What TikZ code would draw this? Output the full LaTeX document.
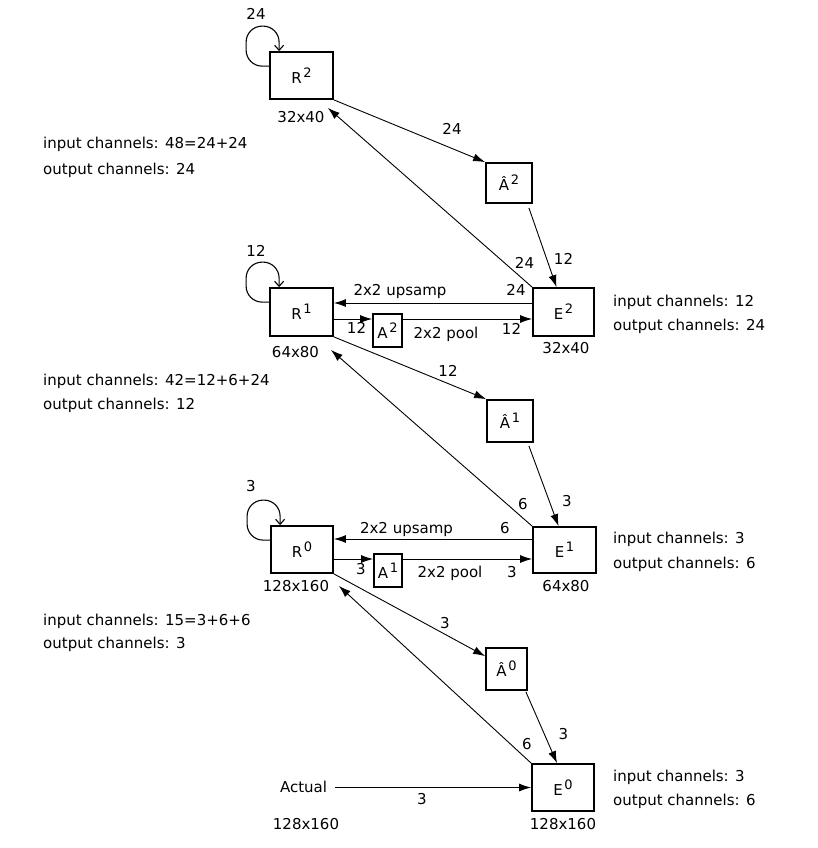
\documentclass[tikz,border=0pt]{standalone}
\usepackage{fontspec}
\setmainfont{DejaVu Sans}
\usetikzlibrary{arrows.meta}
\newcommand\myfs{\fontsize{15pt}{18pt}\selectfont}
\newcommand\supx[1]{\hspace{1.5pt}\raisebox{6pt}{\fontsize{13pt}{13pt}\selectfont #1}}
\begin{document}
\begin{tikzpicture}[x=1pt,y=-1pt,
  box/.style={draw, line width=1.8pt, inner sep=0pt, font=\myfs},
  lbl/.style={inner sep=0pt, anchor=base, font=\myfs},
  side/.style={inner sep=0pt, anchor=base west, font=\myfs},
  conn/.style={line width=0.9pt, -{Latex[length=12pt,width=8pt]}},
  loop/.style={line width=1.1pt, rounded corners=16pt, -{Straight Barb[length=5pt,width=9pt]}},
]
\useasboundingbox (0,0) rectangle (818,848);

% boxes
\node[box, minimum width=63pt, minimum height=47pt] (R2) at (301.5,75.5) {R\supx{2}};
\node[box, minimum width=63pt, minimum height=48pt] (R1) at (301.5,312) {R\supx{1}};
\node[box, minimum width=62pt, minimum height=47pt] (R0) at (302,549.5) {R\supx{0}};
\node[box, minimum width=61pt, minimum height=48pt] (E2) at (563.5,312) {E\supx{2}};
\node[box, minimum width=63pt, minimum height=46pt] (E1) at (564.5,550) {E\supx{1}};
\node[box, minimum width=62pt, minimum height=47pt] (E0) at (563,787.5) {E\supx{0}};
\node[box, minimum width=46pt, minimum height=40pt] (Ah2) at (509,183) {Â\supx{2}};
\node[box, minimum width=46pt, minimum height=42pt] (Ah1) at (510,421) {Â\supx{1}};
\node[box, minimum width=41pt, minimum height=42pt] (Ah0) at (506.5,669) {Â\supx{0}};
\node[box, minimum width=29pt, minimum height=33pt] (A2) at (387.5,330.5) {A\supx{2}};
\node[box, minimum width=28pt, minimum height=33pt] (A1) at (388,570.5) {A\supx{1}};
\node[lbl, anchor=base] (act) at (303.5,792) {Actual};

% self loops
\draw[loop] ([yshift=-15pt]R2.north west) -- ++(-23,0) -- ++(0,-40) -- ++(33,0) -- ([xshift=10pt]R2.north west);
\draw[loop] ([yshift=-15pt]R1.north west) -- ++(-23,0) -- ++(0,-40) -- ++(33,0) -- ([xshift=10pt]R1.north west);
\draw[loop] ([yshift=-15pt]R0.north west) -- ++(-23,0) -- ++(0,-40) -- ++(33,0) -- ([xshift=10pt]R0.north west);
\node[lbl] (l24) at (256,20) {24};
\node[lbl] (l12) at (256,256) {12};
\node[lbl] (l3) at (251,491) {3};

% level 2
\draw[conn] (R2.south east) -- (Ah2.north west);
\draw[conn] (E2.north west) -- ([xshift=-6pt,yshift=-8pt]R2.south east);
\draw[conn] ([xshift=-4pt,yshift=-4pt]Ah2.south east) -- ([xshift=-7pt]E2.north);
\node[lbl] at (452,135) {24};
\node[lbl] at (524.5,268) {24};
\node[lbl] at (563.5,264) {12};

\coordinate (u2) at ([yshift=9pt]E2.west);
\draw[conn] (u2) -- (u2 -| R1.east);
\coordinate (p2) at ([yshift=-7pt]R1.east);
\draw[conn] (p2) -- (p2 -| A2.west);
\draw[conn] (p2 -| A2.east) -- (p2 -| E2.west);
\node[lbl] at (400,295) {2x2 upsamp};
\node[lbl] at (516,295) {24};
\node[lbl] at (356.5,333) {12};
\node[lbl] at (446,338) {2x2 pool};
\node[lbl] at (511.5,334) {12};
\node[lbl] at (295.5,357) {64x80};
\node[lbl] at (566,353) {32x40};
\node[lbl] at (301,122) {32x40};

% level 1
\draw[conn] (R1.south east) -- (Ah1.north west);
\draw[conn] (E1.north west) -- ([xshift=-3pt,yshift=-13pt]R1.south east);
\draw[conn] ([xshift=-5pt,yshift=-3pt]Ah1.south east) -- ([xshift=-6pt]E1.north);
\node[lbl] at (448,376) {12};
\node[lbl] at (523,509) {6};
\node[lbl] at (567,506) {3};

\coordinate (u1) at ([yshift=11pt]E1.west);
\draw[conn] (u1) -- (u1 -| R0.east);
\coordinate (p1) at ([yshift=-9.5pt]R0.east);
\draw[conn] (p1) -- (p1 -| A1.west);
\draw[conn] (p1 -| A1.east) -- (p1 -| E1.west);
\node[lbl] at (406.5,533) {2x2 upsamp};
\node[lbl] at (505,533) {6};
\node[lbl] at (361,574) {3};
\node[lbl] at (450,577) {2x2 pool};
\node[lbl] at (512,577) {3};
\node[lbl] at (296,591) {128x160};
\node[lbl] at (566,591) {64x80};

% level 0
\draw[conn] (R0.south east) -- ([yshift=-9pt]Ah0.north west);
\draw[conn] (E0.north west) -- ([xshift=5pt,yshift=-12pt]R0.south east);
\draw[conn] ([xshift=-2pt,yshift=-1pt]Ah0.south east) -- ([xshift=-6pt]E0.north);
\node[lbl] at (445,628) {3};
\node[lbl] at (527,749) {6};
\node[lbl] at (563.5,739) {3};

\draw[conn] (act.east |- E0.west) ++(8,0) coordinate (a0) (a0) -- (E0.west);
\node[lbl] at (422,804) {3};
\node[lbl] at (306,829) {128x160};
\node[lbl] at (563,829) {128x160};

% side texts
\node[side] at (43,149) {input channels: 48=24+24};
\node[side] at (43,174) {output channels: 24};
\node[side] at (43,385) {input channels: 42=12+6+24};
\node[side] at (43,409) {output channels: 12};
\node[side] at (43,625) {input channels: 15=3+6+6};
\node[side] at (43,648) {output channels: 3};
\node[side] at (613,306) {input channels: 12};
\node[side] at (613,330) {output channels: 24};
\node[side] at (613,543) {input channels: 3};
\node[side] at (613,568) {output channels: 6};
\node[side] at (613,781) {input channels: 3};
\node[side] at (613,805) {output channels: 6};
\end{tikzpicture}
\end{document}
